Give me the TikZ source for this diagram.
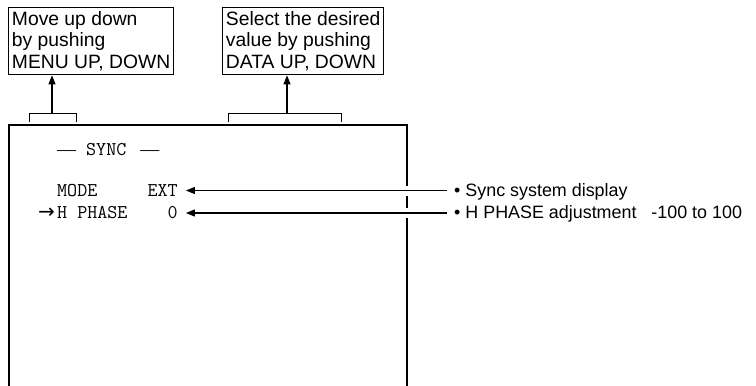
\documentclass[tikz,border=0pt]{standalone}
\usepackage{fontspec}
\setmainfont{Liberation Sans}
\newfontfamily\dashfont{Liberation Serif}
\newfontfamily\symfont{DejaVu Sans}
\usepackage{tikz}
\usetikzlibrary{arrows}
\usetikzlibrary{arrows.meta,positioning}

\tikzset{
    callbox/.style={draw,line width=0.9pt,align=left,anchor=north west,inner xsep=3.5pt,inner ysep=4pt,font=\fontsize{19.3}{21.5}\selectfont},
    rowtext/.style={inner sep=0pt,anchor=base west,text height=11pt,text depth=0pt,font=\ttfamily\fontsize{19.5}{22}\selectfont},
    notetext/.style={inner sep=0pt,anchor=base west,text height=11pt,text depth=0pt,font=\fontsize{17.9}{21}\selectfont},
    leader/.style={line width=1.1pt,-{Triangle[length=9pt,width=7pt]}},
}

\begin{document}
\begin{tikzpicture}[line cap=butt,line join=miter,x=1pt,y=-1pt]
    \useasboundingbox (0,0) rectangle (756,386);
    % call-out boxes
    \node[callbox] (menubox) at (8,7) {Move up down\\by pushing\\MENU UP, DOWN};
    \node[callbox] (databox) at (222,7) {Select the desired\\value by pushing\\DATA UP, DOWN};
    % brackets over the screen
    \draw [line width=0.9pt] (29,122) -- (29,113) -- (76,113) -- (76,122);
    \draw [line width=0.9pt] (228,122) -- (228,113) -- (341,113) -- (341,122);
    \coordinate (menufoot) at (52,113);
    \coordinate (datafoot) at (287,113);
    \draw [leader] (menufoot) -- (menufoot |- menubox.south);
    \draw [leader] (datafoot) -- (datafoot |- databox.south);
    % screen
    \draw [line width=2.2pt] (9,386) -- (9,125) -- (407,125) -- (407,186);
    \draw [line width=2.2pt] (407,196) -- (407,208);
    \draw [line width=2.2pt] (407,218) -- (407,386);
    % menu text
    \node[rowtext] (title) at (57,155) {{\dashfont\fontsize{19}{22}\selectfont —}\hspace{10pt}SYNC\hspace{14pt}{\dashfont\fontsize{19}{22}\selectfont —}};
    \node[rowtext] (moderow) at (57,196) {MODE\ \ \ \ \ EXT};
    \node[rowtext] (phaserow) at (57,218.5) {H PHASE\ \ \ \ 0};
    \node[rowtext,anchor=base east] (cursor) at (55,218.5) {{\symfont\fontsize{20}{22}\selectfont →}};
    % notes
    \node[notetext] (notesync) at (454,196) {\textbullet\ Sync system display};
    \node[notetext] (notephase) at (454,218.5) {\textbullet\ H PHASE adjustment\ \ \ -100 to 100};
    \draw [leader,shorten <=7pt,shorten >=8pt] (notesync.west) -- (moderow.east);
    \draw [leader,shorten <=7pt,shorten >=8pt] (notephase.west) -- (phaserow.east);
\end{tikzpicture}
\end{document}
